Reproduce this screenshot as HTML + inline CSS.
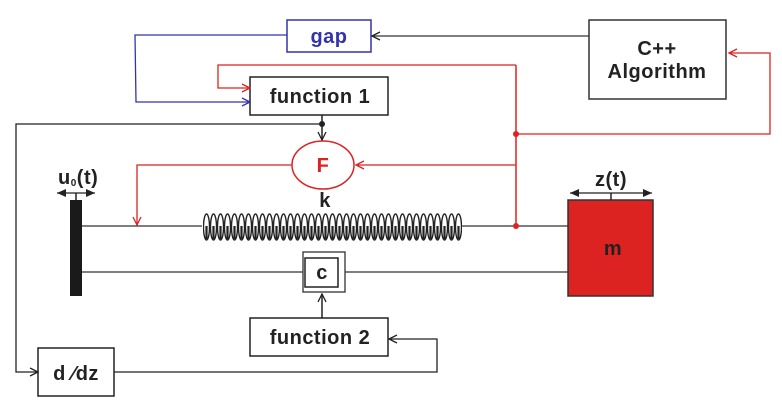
<!DOCTYPE html>
<html><head><meta charset="utf-8"><style>
body{margin:0;background:#fff}
svg{display:block}
text{font-family:"Liberation Sans",sans-serif;font-weight:bold;letter-spacing:0.5px}
</style></head><body>
<svg width="782" height="413" viewBox="0 0 782 413" xmlns="http://www.w3.org/2000/svg">
<defs>
<marker id="ab" markerWidth="10" markerHeight="10" refX="9" refY="5" orient="auto" markerUnits="userSpaceOnUse"><path d="M1,1 L9,5 L1,9" fill="none" stroke="#222" stroke-width="1.3"/></marker>
<marker id="ar" markerWidth="10" markerHeight="10" refX="9" refY="5" orient="auto" markerUnits="userSpaceOnUse"><path d="M1,1 L9,5 L1,9" fill="none" stroke="#d22" stroke-width="1.3"/></marker>
<marker id="abl" markerWidth="10" markerHeight="10" refX="9" refY="5" orient="auto" markerUnits="userSpaceOnUse"><path d="M1,1 L9,5 L1,9" fill="none" stroke="#33a" stroke-width="1.3"/></marker>
<marker id="af" markerWidth="10" markerHeight="10" refX="9" refY="5" orient="auto" markerUnits="userSpaceOnUse"><path d="M0,1 L9,5 L0,9 Z" fill="#222"/></marker>
<pattern id="coil" x="203" y="212" width="7" height="30" patternUnits="userSpaceOnUse">
<ellipse cx="3.5" cy="15" rx="3" ry="13" fill="none" stroke="#222" stroke-width="1.4"/>
<rect x="2.4" y="14" width="2.2" height="13" fill="#222"/>
</pattern>
</defs>
<rect x="287" y="20" width="84" height="32" fill="#fff" stroke="#33a" stroke-width="1.5"/>
<text x="329" y="43" font-size="20" fill="#33a" text-anchor="middle">gap</text>
<rect x="589" y="20" width="137" height="79" fill="#fff" stroke="#333" stroke-width="1.5"/>
<text x="657" y="55" font-size="20" fill="#222" text-anchor="middle">C++</text>
<text x="657" y="78" font-size="20" fill="#222" text-anchor="middle">Algorithm</text>
<rect x="250" y="77" width="138" height="38" fill="#fff" stroke="#222" stroke-width="1.5"/>
<text x="320" y="103" font-size="20" fill="#222" text-anchor="middle">function 1</text>
<rect x="250" y="318" width="138" height="38" fill="#fff" stroke="#222" stroke-width="1.5"/>
<text x="320" y="344" font-size="20" fill="#222" text-anchor="middle">function 2</text>
<rect x="38" y="348" width="76" height="48" fill="#fff" stroke="#222" stroke-width="1.5"/>
<text x="76" y="380" font-size="20" fill="#222" text-anchor="middle">d ⁄dz</text>
<line x1="589" y1="36" x2="372" y2="36" stroke="#333" stroke-width="1.3" marker-end="url(#ab)"/>
<polyline points="287,35 135,35 136,102 250,102" fill="none" stroke="#33a" stroke-width="1.3" marker-end="url(#abl)"/>
<polyline points="516,65 218,65 218,88 250,88" fill="none" stroke="#d22" stroke-width="1.3" marker-end="url(#ar)"/>
<line x1="516" y1="65" x2="516" y2="226" stroke="#d22" stroke-width="1.5"/>
<polyline points="516,134 770,134 770,53 729,53" fill="none" stroke="#d22" stroke-width="1.3" marker-end="url(#ar)"/>
<circle cx="516" cy="134" r="3" fill="#d22"/>
<line x1="516" y1="165" x2="356" y2="165" stroke="#d22" stroke-width="1.3" marker-end="url(#ar)"/>
<polyline points="292,165 137,165 137,225" fill="none" stroke="#d22" stroke-width="1.3" marker-end="url(#ar)"/>
<ellipse cx="323" cy="165" rx="31" ry="24" fill="#fff" stroke="#d22" stroke-width="1.5"/>
<text x="323" y="172" font-size="20" fill="#d22" text-anchor="middle">F</text>
<line x1="322" y1="115" x2="322" y2="140" stroke="#222" stroke-width="1.5" marker-end="url(#ab)"/>
<polyline points="322,124 16,124 16,372 38,372" fill="none" stroke="#222" stroke-width="1.3" marker-end="url(#ab)"/>
<circle cx="322" cy="124" r="3" fill="#222"/>
<polyline points="114,372 437,372 437,339 389,339" fill="none" stroke="#222" stroke-width="1.3" marker-end="url(#ab)"/>
<line x1="322" y1="318" x2="322" y2="294" stroke="#222" stroke-width="1.5" marker-end="url(#ab)"/>
<rect x="70" y="200" width="12" height="96" fill="#1a1a1a"/>
<line x1="76" y1="193" x2="76" y2="200" stroke="#222" stroke-width="1.5"/>
<line x1="76" y1="193" x2="57" y2="193" stroke="#222" stroke-width="1.3" marker-end="url(#af)"/>
<line x1="76" y1="193" x2="95" y2="193" stroke="#222" stroke-width="1.3" marker-end="url(#af)"/>
<text x="58" y="184" font-size="20" fill="#222">u<tspan font-size="10" dy="2">0</tspan><tspan dy="-2">(t)</tspan></text>
<text x="325" y="207" font-size="20" fill="#222" text-anchor="middle">k</text>
<line x1="82" y1="226" x2="202" y2="226" stroke="#333" stroke-width="1.3"/>
<rect x="203" y="212" width="259" height="30" fill="url(#coil)"/>
<line x1="462" y1="226" x2="568" y2="226" stroke="#333" stroke-width="1.3"/>
<circle cx="516" cy="226" r="3" fill="#d22"/>
<line x1="82" y1="272" x2="303" y2="272" stroke="#333" stroke-width="1.3"/>
<line x1="345" y1="272" x2="568" y2="272" stroke="#333" stroke-width="1.3"/>
<rect x="303" y="252" width="42" height="40" fill="#fff" stroke="#333" stroke-width="1.3"/>
<rect x="305" y="258" width="33" height="29" fill="#fff" stroke="#222" stroke-width="1.5"/>
<text x="322" y="279" font-size="20" fill="#222" text-anchor="middle">c</text>
<rect x="568" y="200" width="85" height="96" fill="#dd2222" stroke="#333" stroke-width="1.5"/>
<text x="613" y="255" font-size="20" fill="#222" text-anchor="middle">m</text>
<line x1="611" y1="193" x2="611" y2="200" stroke="#222" stroke-width="1.5"/>
<line x1="611" y1="193" x2="570" y2="193" stroke="#222" stroke-width="1.3" marker-end="url(#af)"/>
<line x1="611" y1="193" x2="652" y2="193" stroke="#222" stroke-width="1.3" marker-end="url(#af)"/>
<text x="611" y="186" font-size="20" fill="#222" text-anchor="middle">z(t)</text>
</svg>
</body></html>
